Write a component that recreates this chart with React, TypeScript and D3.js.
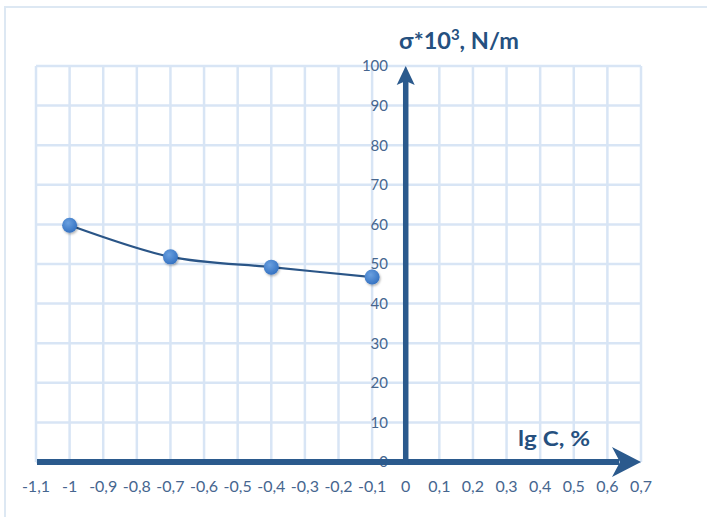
import React from "react";
import * as d3 from "d3";

const xTicks = [-1.1, -1, -0.9, -0.8, -0.7, -0.6, -0.5, -0.4, -0.3, -0.2, -0.1, 0, 0.1, 0.2, 0.3, 0.4, 0.5, 0.6, 0.7];
const xTickLabels = ["-1,1", "-1", "-0,9", "-0,8", "-0,7", "-0,6", "-0,5", "-0,4", "-0,3", "-0,2", "-0,1", "0", "0,1", "0,2", "0,3", "0,4", "0,5", "0,6", "0,7"];
const yTicks = [0, 10, 20, 30, 40, 50, 60, 70, 80, 90, 100];
const lgC = [-1, -0.7, -0.4, -0.1];
const sigma = [59.8, 51.8, 49.2, 46.7];

const W = 707;
const H = 517;

export default function App() {
  const x = d3.scaleLinear().domain([-1.1, 0.7]).range([36, 641]);
  const y = d3.scaleLinear().domain([0, 100]).range([462, 66]);

  const pts: [number, number][] = lgC.map((v, i) => [x(v), y(sigma[i])]);
  const line = d3.line().curve(d3.curveCardinal.tension(0.1))(pts) || "";

  const gridColor = "#d8e5f5";
  const axisColor = "#2b5a8d";
  const labelColor = "#46668f";
  const titleColor = "#25507f";

  const x0 = x(0);
  const y0 = y(0);
  const xTip = x(0.7);
  const yTip = y(100);

  return (
    <svg
      width={W}
      height={H}
      style={{ position: "fixed", left: 0, top: 0, background: "#fff" }}
      fontFamily="Lato, 'Open Sans', sans-serif"
    >
      <defs>
        <radialGradient id="mk" cx="40%" cy="35%" r="65%">
          <stop offset="0%" stopColor="#6aa0e0" />
          <stop offset="100%" stopColor="#3673c2" />
        </radialGradient>
        <filter id="sh" x="-50%" y="-50%" width="200%" height="200%">
          <feDropShadow dx="1" dy="1.5" stdDeviation="1.2" floodColor="#000" floodOpacity="0.3" />
        </filter>
      </defs>
      <rect x={0} y={0} width={W} height={H} fill="#fff" />
      {/* outer chart border */}
      <rect x={5} y={7} width={W + 10} height={H + 10} fill="none" stroke="#dde8f3" strokeWidth={2} />

      {/* grid */}
      {xTicks.map((t, i) => (
        <line key={"gx" + i} x1={x(t)} x2={x(t)} y1={y(100)} y2={y(0)} stroke={gridColor} strokeWidth={2.5} />
      ))}
      {yTicks.map((t, i) => (
        <line key={"gy" + i} x1={x(-1.1)} x2={x(0.7)} y1={y(t)} y2={y(t)} stroke={gridColor} strokeWidth={2.5} />
      ))}

      {/* y tick labels */}
      {yTicks.map((t, i) => (
        <text key={"ly" + i} x={388} y={y(t)} dy="0.36em" textAnchor="end" fontSize={15} fill={labelColor}>
          {t}
        </text>
      ))}
      {/* x tick labels */}
      {xTicks.map((t, i) => (
        <text key={"lx" + i} x={x(t)} y={492} textAnchor="middle" fontSize={16} fill={labelColor}>
          {xTickLabels[i]}
        </text>
      ))}

      {/* axes */}
      <line x1={x(-1.1) + 1} x2={xTip - 22} y1={y0} y2={y0} stroke={axisColor} strokeWidth={6} />
      <polygon
        points={`${xTip},${y0} ${xTip - 29},${y0 - 15} ${xTip - 21},${y0} ${xTip - 29},${y0 + 15}`}
        fill={axisColor}
      />
      <line x1={x0} x2={x0} y1={y0 + 3} y2={yTip + 14} stroke={axisColor} strokeWidth={5.5} />
      <polygon
        points={`${x0},${yTip} ${x0 - 9},${yTip + 19} ${x0},${yTip + 15} ${x0 + 9},${yTip + 19}`}
        fill={axisColor}
      />

      {/* data */}
      <path d={line} fill="none" stroke="#2a5587" strokeWidth={2.2} />
      {pts.map((p, i) => (
        <circle key={"p" + i} cx={p[0]} cy={p[1]} r={7.5} fill="url(#mk)" filter="url(#sh)" />
      ))}

      {/* titles */}
      <text x={399} y={49} fontSize={23.5} fontWeight={700} fill={titleColor}>
        σ*10
        <tspan fontSize={15} dy={-9}>3</tspan>
        <tspan dy={9}>, N/m</tspan>
      </text>
      <text x={518} y={446} fontSize={20} fontWeight={700} fill={titleColor} textLength={72} lengthAdjust="spacingAndGlyphs">
        lg C, %
      </text>
    </svg>
  );
}
